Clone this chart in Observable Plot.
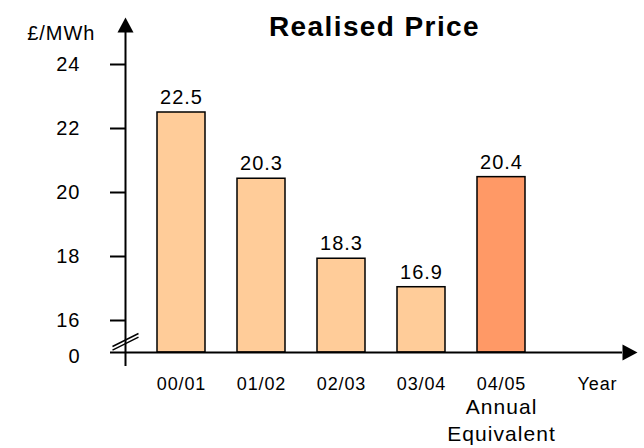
<!DOCTYPE html>
<html>
<head>
<meta charset="utf-8">
<script src="https://cdn.jsdelivr.net/npm/d3@7"></script>
<script src="https://cdn.jsdelivr.net/npm/@observablehq/plot@0.6"></script>
<style>
  html, body { margin: 0; padding: 0; background: #fff; }
  #chart svg text { letter-spacing: 0.05em; }
</style>
</head>
<body>
<div id="chart"></div>
<script>
// ---- data ----
const categories = ["00/01", "01/02", "02/03", "03/04", "04/05"];
const barTops = [22.5, 20.43, 17.93, 17.04, 20.48];          // bar heights as drawn
const valueLabels = ["22.5", "20.3", "18.3", "16.9", "20.4"]; // printed values
const kinds = ["actual", "actual", "actual", "actual", "annual"];
const yTicks = [16, 18, 20, 22, 24];
const baseValue = 15;        // where the broken axis starts
const baseLabel = "0";
const title = "Realised Price";
const yUnit = "£/MWh";
const xAxisTitle = "Year";
const annualNote = "Annual\nEquivalent";

const data = categories.map((c, i) => ({i, cat: c, top: barTops[i], label: valueLabels[i], kind: kinds[i]}));

// layout helpers (in scale units)
const X0 = -0.7;                 // position of the vertical axis
const tickLen = 15 / 80;         // tick length
const labelX = X0 - 45 / 80;     // right edge of tick labels
const xEnd = 5.5125;             // base of the x arrow
const yEnd = 25;                 // base of the y arrow
const font = "'Liberation Sans', Arial, Helvetica, sans-serif";

const arrowUp = {draw(ctx) { ctx.moveTo(0, -15); ctx.lineTo(8, 0); ctx.lineTo(-8, 0); ctx.closePath(); }};
const arrowRight = {draw(ctx) { ctx.moveTo(15, 0); ctx.lineTo(0, -8); ctx.lineTo(0, 8); ctx.closePath(); }};

const breaks = [-1, 1];

const chart = Plot.plot({
  width: 644,
  height: 448,
  marginTop: 16,
  marginBottom: 96,
  marginLeft: 125,
  marginRight: 7,
  x: {domain: [-0.7, 5.7], axis: null},
  y: {domain: [15, 25.5], axis: null},
  color: {domain: ["actual", "annual"], range: ["#FFCC99", "#FF9966"]},
  style: {fontFamily: font, overflow: "visible", background: "#fff", color: "#000"},
  marks: [
    Plot.rect(data, {x1: d => d.i - 0.3, x2: d => d.i + 0.3, y1: baseValue, y2: "top", fill: "kind", stroke: "black", strokeWidth: 1.5}),
    // axes
    Plot.ruleX([X0], {y1: baseValue - 14 / 32, y2: yEnd, stroke: "black", strokeWidth: 2}),
    Plot.dot([{x: X0, y: yEnd}], {x: "x", y: "y", symbol: arrowUp, fill: "black", stroke: "none", r: 6}),
    Plot.ruleY([baseValue], {x1: X0 - tickLen, x2: xEnd, stroke: "black", strokeWidth: 2}),
    Plot.dot([{x: xEnd, y: baseValue}], {x: "x", y: "y", symbol: arrowRight, fill: "black", stroke: "none", r: 6}),
    Plot.ruleY(yTicks, {y: d => d, x1: X0 - tickLen, x2: X0, stroke: "black", strokeWidth: 2}),
    // axis break
    Plot.link(breaks, {
      x1: X0 - 13 / 80, x2: X0 + 13 / 80,
      y1: d => 15.335 + d * 1.8 / 32 - 6.5 / 32,
      y2: d => 15.335 + d * 1.8 / 32 + 6.5 / 32,
      stroke: "black", strokeWidth: 1.5
    }),
    // tick labels
    Plot.text(yTicks, {x: labelX, y: d => d, text: d => String(d), textAnchor: "end", fontSize: 20}),
    Plot.text([baseLabel], {x: labelX, y: baseValue, text: d => d, textAnchor: "end", fontSize: 20, dy: 4}),
    Plot.text([yUnit], {frameAnchor: "top-left", text: d => d, dx: -30, dy: 17, textAnchor: "end", lineAnchor: "middle", fontSize: 20}),
    // category labels
    Plot.text(data, {x: "i", y: baseValue, text: "cat", dy: 32, fontSize: 18}),
    Plot.text([xAxisTitle], {x: 5.2, y: baseValue, text: d => d, dy: 32, fontSize: 18}),
    Plot.text([annualNote], {x: 4, y: baseValue, text: d => d, dy: 66.5, lineHeight: 1.29, fontSize: 21}),
    // value labels
    Plot.text(data, {x: "i", y: "top", text: "label", dy: -15, fontSize: 20}),
    // title
    Plot.text([title], {frameAnchor: "top", text: d => d, dx: -7, dy: 11, lineAnchor: "middle", fontSize: 28, fontWeight: "bold"})
  ]
});
document.getElementById("chart").appendChild(chart);
</script>
</body>
</html>
